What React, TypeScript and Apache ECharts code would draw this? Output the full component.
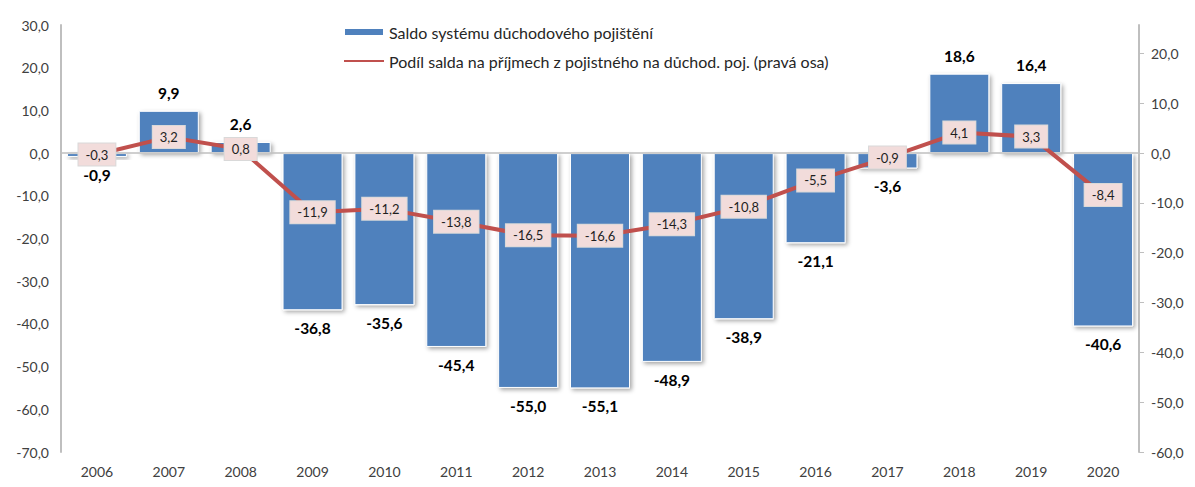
import React, { useEffect, useRef } from "react";
import * as echarts from "echarts";

const years = ["2006","2007","2008","2009","2010","2011","2012","2013","2014","2015","2016","2017","2018","2019","2020"];
const saldo = [-0.9, 9.9, 2.6, -36.8, -35.6, -45.4, -55.0, -55.1, -48.9, -38.9, -21.1, -3.6, 18.6, 16.4, -40.6];
const podil = [-0.3, 3.2, 0.8, -11.9, -11.2, -13.8, -16.5, -16.6, -14.3, -10.8, -5.5, -0.9, 4.1, 3.3, -8.4];
const barName = "Saldo systému důchodového pojištění";
const lineName = "Podíl salda na příjmech z pojistného na důchod. poj. (pravá osa)";

const fmt = (v: number) => v.toFixed(1).replace(".", ",");
const FONT = "Lato";

export default function App() {
  const ref = useRef<HTMLDivElement>(null);
  useEffect(() => {
    const chart = echarts.init(ref.current!, null, { renderer: "svg" });
    chart.setOption({
      animation: false,
      textStyle: { fontFamily: FONT },
      legend: {
        orient: "vertical",
        left: 338,
        top: 19,
        itemGap: 13,
        itemWidth: 40,
        itemHeight: 8,
        textStyle: { fontFamily: FONT, fontSize: 16, color: "#262626" },
        data: [
          { name: barName, icon: "rect" },
          { name: lineName, itemStyle: { opacity: 0 } },
        ],
      },
      grid: { left: 61, right: 56, top: 25, bottom: 35 },
      xAxis: {
        type: "category",
        data: years,
        axisLine: { show: false },
        axisTick: { show: false },
        axisLabel: { fontFamily: FONT, fontSize: 14, color: "#404040", margin: 12 },
      },
      yAxis: [
        {
          type: "value",
          min: -70,
          max: 30,
          interval: 10,
          splitLine: { show: false },
          axisLine: { show: true, lineStyle: { color: "#BFBFBF", width: 2 } },
          axisTick: { show: false },
          axisLabel: { formatter: (v: number) => fmt(v), fontFamily: FONT, fontSize: 14, color: "#404040", margin: 12 },
        },
        {
          type: "value",
          min: -60,
          max: 25.7,
          interval: 10,
          position: "right",
          splitLine: { show: false },
          axisLine: { show: true, lineStyle: { color: "#BFBFBF", width: 2 } },
          axisTick: { show: true, length: 5, lineStyle: { color: "#BFBFBF" } },
          axisLabel: { showMaxLabel: false, formatter: (v: number) => (v > 20.5 ? "" : fmt(v)), fontFamily: FONT, fontSize: 14, color: "#404040", margin: 12 },
        },
      ],
      series: [
        {
          name: barName,
          type: "bar",
          yAxisIndex: 0,
          barWidth: 60,
          data: saldo.map((v) => ({
            value: v,
            label: { position: v >= 0 ? "top" : "bottom" },
          })),
          itemStyle: {
            color: "#4F81BD",
            borderColor: "#FFFFFF",
            borderWidth: 1,
            shadowColor: "rgba(0,0,0,0.35)",
            shadowBlur: 4,
            shadowOffsetX: 2,
            shadowOffsetY: 2,
          },
          label: {
            show: true,
            distance: 10,
            formatter: (p: any) => fmt(p.value),
            fontFamily: FONT,
            fontSize: 15.5,
            fontWeight: "bold",
            color: "#000000",
          },
          markLine: {
            silent: true,
            symbol: "none",
            label: { show: false },
            lineStyle: { color: "#BFBFBF", width: 1.5, type: "solid" },
            data: [{ yAxis: 0 }],
          },
          z: 2,
        },
        {
          name: lineName,
          type: "line",
          yAxisIndex: 1,
          data: podil,
          symbol: "circle",
          symbolSize: 1,
          showSymbol: true,
          lineStyle: { color: "#C0504D", width: 4 },
          itemStyle: { color: "#C0504D" },
          label: {
            show: true,
            position: "inside",
            formatter: (p: any) => fmt(p.value),
            fontFamily: FONT,
            fontSize: 13,
            color: "#1F1F1F",
            backgroundColor: "#F2DCDB",
            borderColor: "#D9D9D9",
            borderWidth: 1,
            padding: [5, 7, 4, 7],
          },
          labelLayout: { hideOverlap: false },
          z: 5,
        },
      ],
    });
    return () => chart.dispose();
  }, []);
  return <div ref={ref} style={{ width: 1195, height: 487, position: "absolute", left: 0, top: 0 }} />;
}
